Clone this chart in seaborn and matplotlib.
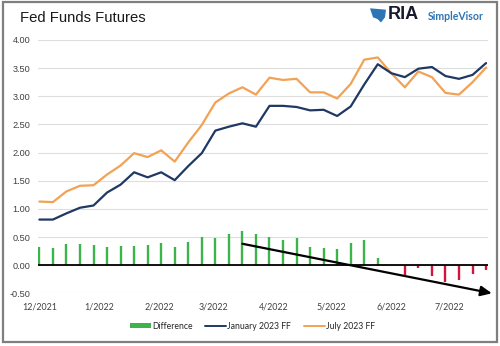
import numpy as np
import pandas as pd
import matplotlib
matplotlib.use("Agg")
import matplotlib.pyplot as plt
import matplotlib.dates as mdates
from matplotlib.patches import Rectangle, Patch, Polygon
from matplotlib.lines import Line2D
import seaborn as sns

# ---- data ----
dates = pd.date_range("2021-12-01", periods=34, freq="7D")
jan_2023 = [0.81, 0.81, 0.92, 1.02, 1.06, 1.29, 1.43, 1.65, 1.56, 1.65,
            1.51, 1.76, 1.99, 2.39, 2.46, 2.52, 2.46, 2.83, 2.83, 2.81,
            2.75, 2.76, 2.65, 2.82, 3.21, 3.57, 3.41, 3.34, 3.49, 3.52,
            3.36, 3.31, 3.38, 3.59]
jul_2023 = [1.13, 1.12, 1.31, 1.41, 1.42, 1.61, 1.77, 1.99, 1.92, 2.04,
            1.84, 2.18, 2.49, 2.89, 3.05, 3.16, 3.03, 3.33, 3.29, 3.31,
            3.07, 3.07, 2.96, 3.22, 3.65, 3.69, 3.41, 3.16, 3.44, 3.34,
            3.06, 3.03, 3.25, 3.51]
difference = [0.32, 0.31, 0.38, 0.38, 0.36, 0.32, 0.34, 0.34, 0.36, 0.39,
              0.33, 0.42, 0.50, 0.49, 0.56, 0.61, 0.55, 0.50, 0.45, 0.49,
              0.32, 0.31, 0.29, 0.39, 0.45, 0.12, 0.01, -0.17, -0.05, -0.20,
              -0.30, -0.27, -0.15, -0.08]
tick_months = ["2021-12-01", "2022-01-01", "2022-02-01", "2022-03-01",
               "2022-04-01", "2022-05-01", "2022-06-01", "2022-07-01"]
tick_labels = ["12/2021", "1/2022", "2/2022", "3/2022", "4/2022",
               "5/2022", "6/2022", "7/2022"]
y_ticks = [-0.5, 0.0, 0.5, 1.0, 1.5, 2.0, 2.5, 3.0, 3.5, 4.0]
trend_x = ["2022-03-16", "2022-07-23"]
trend_y = [0.38, -0.50]

df = pd.DataFrame({"date": dates, "jan": jan_2023, "jul": jul_2023, "diff": difference})

NAVY = "#1f3864"
ORANGE = "#f2a254"
GREEN = "#3cb44b"
RED = "#d2153a"

sns.set_theme(style="white")
plt.rcParams["font.family"] = ["Liberation Sans", "DejaVu Sans"]

fig = plt.figure(figsize=(5.0, 3.46), dpi=100)
ax = fig.add_axes([0.076, 0.1523, 0.9, 0.7321])

# bars (thin columns)
bar_colors = [GREEN if v >= 0 else RED for v in df["diff"]]
ax.vlines(mdates.date2num(df["date"]), 0, df["diff"], colors=bar_colors,
          linewidth=1.7, zorder=2)

sns.lineplot(data=df, x="date", y="jan", ax=ax, color=NAVY, linewidth=1.6, zorder=4)
sns.lineplot(data=df, x="date", y="jul", ax=ax, color=ORANGE, linewidth=1.6, zorder=3)

# zero axis line
ax.axhline(0, color="black", linewidth=1.3, zorder=5)

# trend arrow
ax.annotate("", xy=(mdates.datestr2num(trend_x[1]), trend_y[1]),
            xytext=(mdates.datestr2num(trend_x[0]), trend_y[0]),
            arrowprops=dict(arrowstyle="-|>,head_length=0.55,head_width=0.25",
                            color="black", lw=1.6, shrinkA=0, shrinkB=0),
            zorder=6, annotation_clip=False)

ax.set_ylim(-0.5, 4.0)
start = mdates.date2num(dates[0])
ax.set_xlim(start - 0.7, start + 232)
ax.set_yticks(y_ticks)
ax.set_yticklabels([f"{v:.2f}" for v in y_ticks], fontsize=6.6,
                   family=["Liberation Sans", "DejaVu Sans"], color="#404040")
ax.set_xticks([mdates.datestr2num(d) for d in tick_months])
ax.set_xticklabels(tick_labels, fontsize=6.4, family=["Lato", "DejaVu Sans"],
                   color="#404040")
ax.tick_params(axis="x", length=0, pad=6.5)
ax.tick_params(axis="y", length=0, pad=5.5)
ax.set_xlabel("")
ax.set_ylabel("")
ax.grid(axis="y", color="#dedede", linewidth=0.8, zorder=0)
ax.set_axisbelow(True)
for s in ax.spines.values():
    s.set_visible(False)

# title
fig.text(0.039, 0.948, "Fed Funds Futures", fontsize=10.7, color="#1a1a1a",
         ha="left", va="center", family=["Liberation Sans", "DejaVu Sans"])

# logo
fig.text(0.776, 0.957, "RIA", fontsize=13, fontweight="bold", color="#1a1a2e",
         ha="left", va="center", family=["Liberation Sans", "DejaVu Sans"])
fig.text(0.856, 0.953, "SimpleVisor", fontsize=7.6, fontweight="bold", color="#2e75b6",
         ha="left", va="center", family=["Lato", "DejaVu Sans"])
fig.patches.append(Polygon([[0.740, 0.976], [0.772, 0.972], [0.770, 0.950],
                            [0.762, 0.935], [0.755, 0.945], [0.746, 0.950]],
                           closed=True, transform=fig.transFigure,
                           facecolor="#2e75b6", edgecolor="none"))

# legend
handles = [Patch(facecolor=GREEN, edgecolor="none"),
           Line2D([0], [0], color=NAVY, lw=1.4),
           Line2D([0], [0], color=ORANGE, lw=1.4)]
labels = ["Difference", "January 2023 FF", "July 2023 FF"]
fig.legend(handles, labels, loc="center", bbox_to_anchor=(0.505, 0.057), ncol=3,
           frameon=False, handlelength=2.4, handleheight=0.45,
           handletextpad=0.15, columnspacing=1.5,
           prop={"family": ["Lato", "DejaVu Sans"], "size": 6.2})

# outer frame
fig.patches.append(Rectangle((0.006, 0.012), 0.988, 0.982, transform=fig.transFigure,
                             fill=False, edgecolor="#7f7f7f", linewidth=1.6))

fig.savefig("out.png", dpi=100)
